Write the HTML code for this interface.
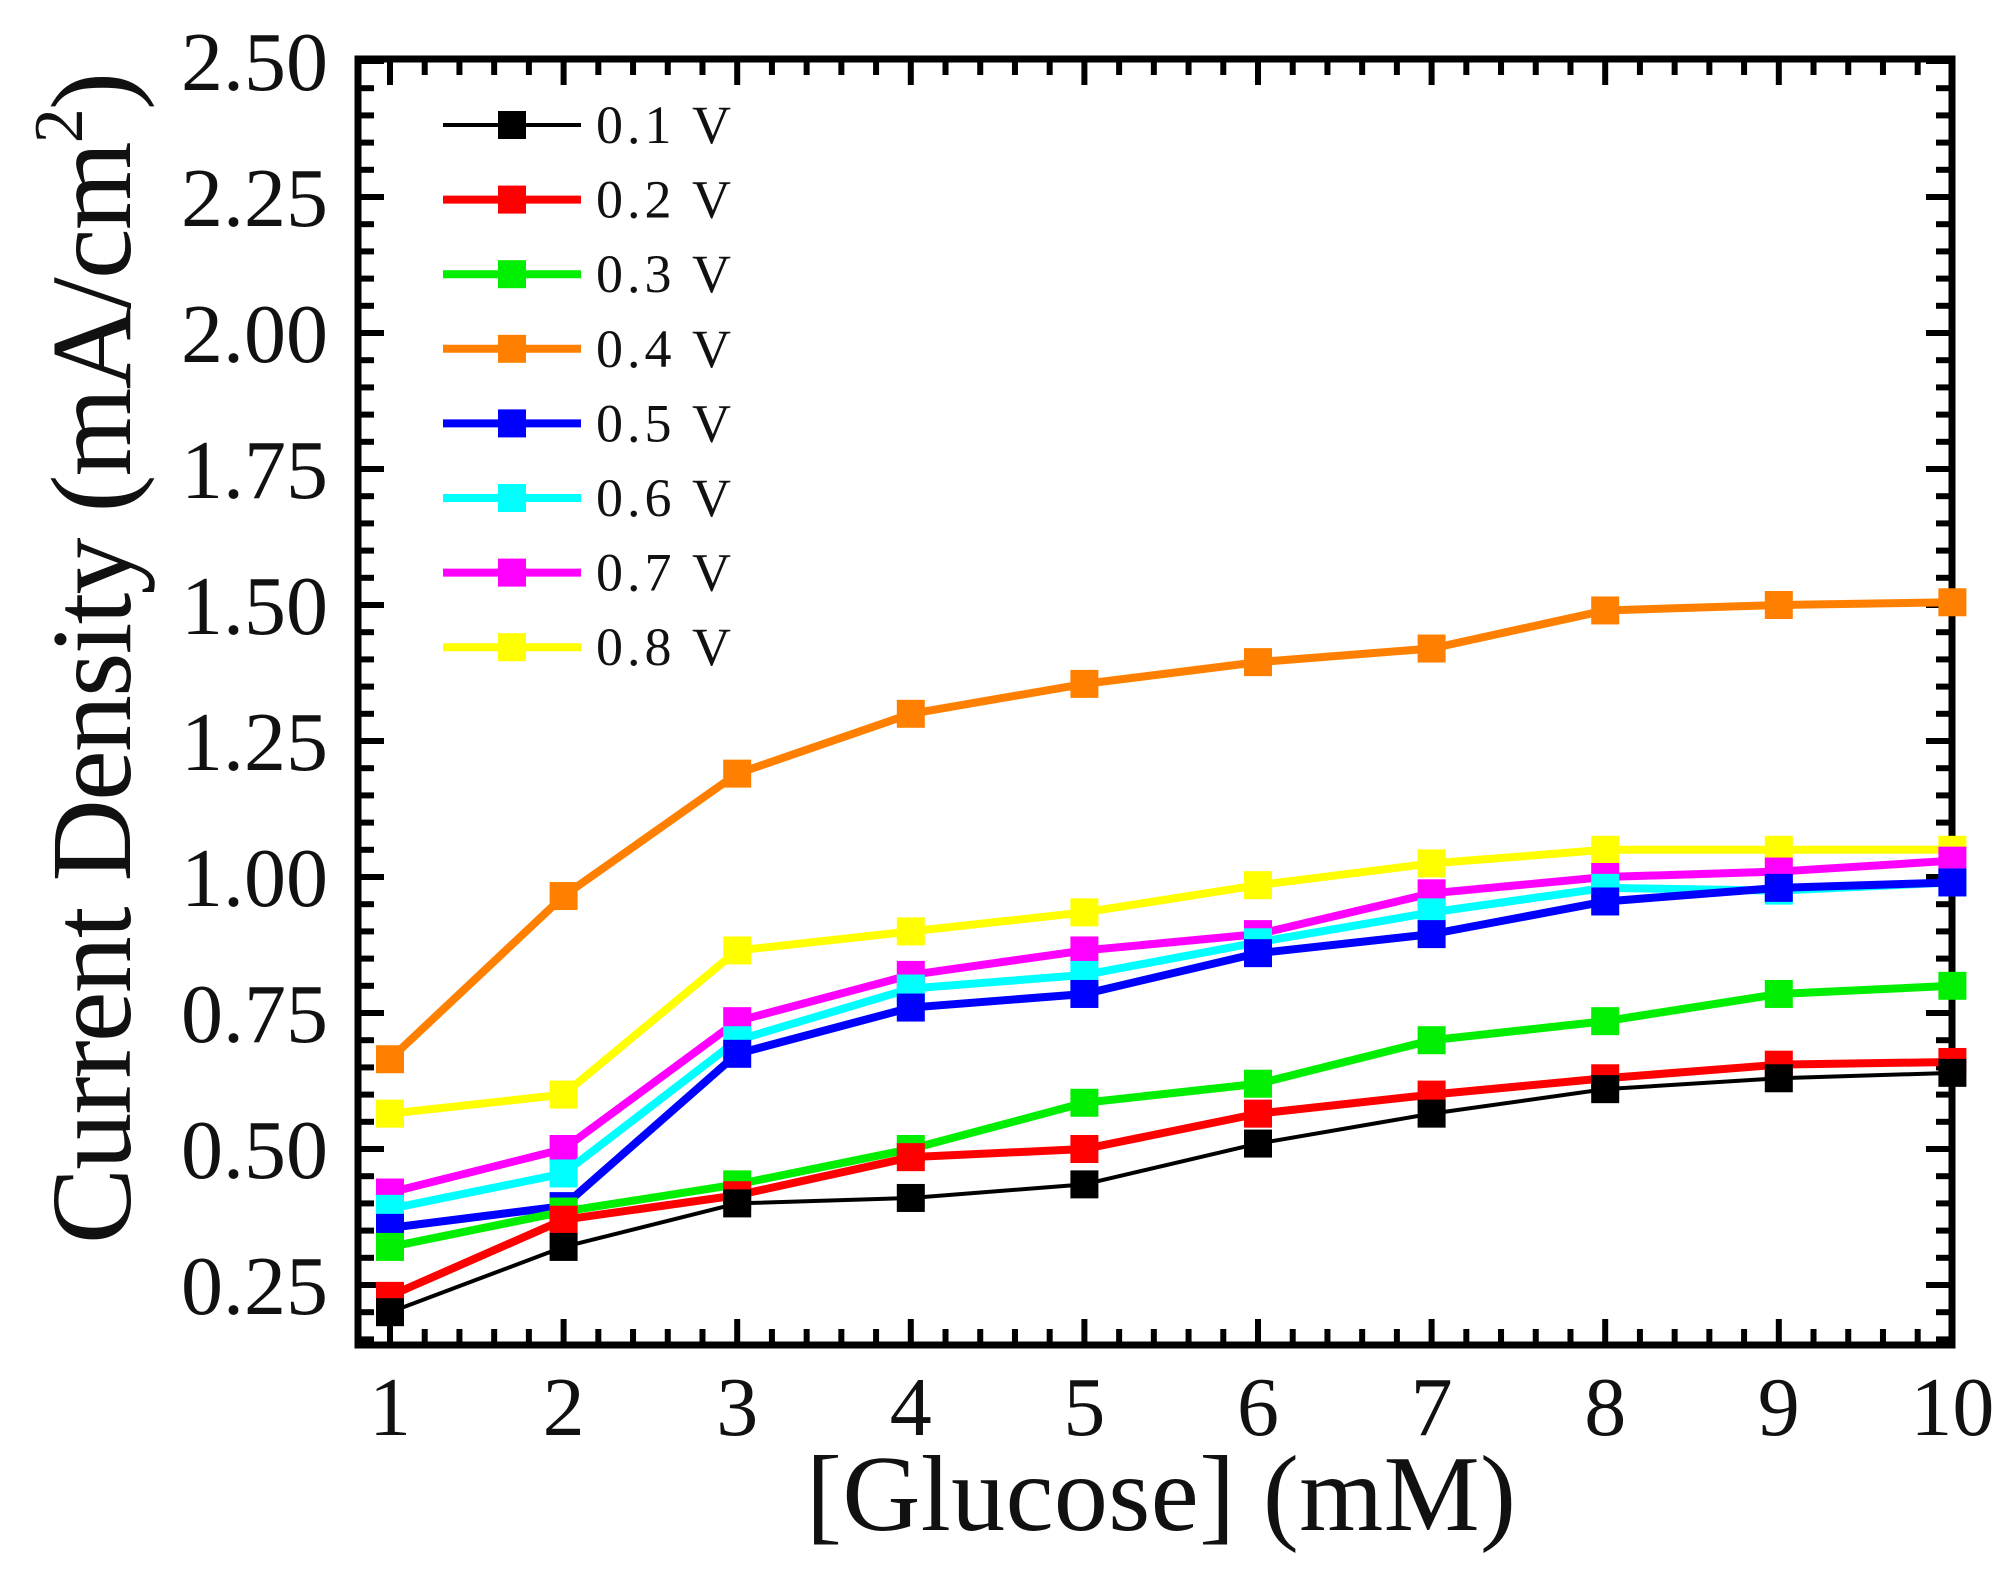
<!DOCTYPE html>
<html><head><meta charset="utf-8"><style>
html,body{margin:0;padding:0;background:#fff;}
svg{display:block;}
text{font-family:"Liberation Serif",serif;fill:#111;}
</style></head><body>
<svg width="2012" height="1583" viewBox="0 0 2012 1583" xmlns="http://www.w3.org/2000/svg">
<rect width="2012" height="1583" fill="#fff"/>
<g id="ticks" stroke="#000" stroke-width="6"></g>
<rect x="358" y="59" width="1594" height="1286" fill="none" stroke="#000" stroke-width="7"/>
<g id="series"></g>
<g id="legend"></g>
<g id="labels" font-size="84" text-anchor="end"></g>
<g id="xlabels" font-size="84" text-anchor="middle"></g>
<text x="1161" y="1530" font-size="108" text-anchor="middle" textLength="710">[Glucose] (mM)</text>
<text transform="translate(130,658) rotate(-90)" font-size="114" text-anchor="middle" textLength="1172">Current Density (mA/cm<tspan font-size="70" dy="-48">2</tspan><tspan dy="48">)</tspan></text>
<script>
var NS="http://www.w3.org/2000/svg";
function X(v){return 390+(v-1)*173.6;}
function Y(v){return 61+(2.5-v)*544;}
function el(p,n,a,t){var e=document.createElementNS(NS,n);for(var k in a)e.setAttribute(k,a[k]);if(t!==undefined)e.textContent=t;p.appendChild(e);return e;}
var T=document.getElementById('ticks');
for(var i=0;i<=45;i++){var v=1+i*0.2;var x=X(v);if(x>1953)break;var L=(i%5==0)?26:16;
el(T,'line',{x1:x,y1:1345,x2:x,y2:1345-L});el(T,'line',{x1:x,y1:59,x2:x,y2:59+L});}
for(var v=0.8;v<1;v+=0.2){var x=X(v);if(x>358){el(T,'line',{x1:x,y1:1345,x2:x,y2:1329});el(T,'line',{x1:x,y1:59,x2:x,y2:75});}}
for(var i=0;i<=50;i++){var v=2.5-i*0.05;var y=Y(v);if(y>1344)break;if(y<60)continue;var L=(i%5==0)?26:16;
el(T,'line',{x1:358,y1:y,x2:358+L,y2:y});el(T,'line',{x1:1952,y1:y,x2:1952-L,y2:y});}
var LB=document.getElementById('labels');
[2.5,2.25,2.0,1.75,1.5,1.25,1.0,0.75,0.5,0.25].forEach(function(v){el(LB,'text',{x:328,y:Y(v)+29},v.toFixed(2));});
var XL=document.getElementById('xlabels');
for(var k=1;k<=10;k++)el(XL,'text',{x:X(k),y:1435},String(k));
var data=[
['0.1 V','#000',4,[0.20,0.32,0.40,0.41,0.435,0.51,0.565,0.61,0.63,0.64]],
['0.2 V','#ff0000',8,[0.23,0.37,0.415,0.485,0.50,0.565,0.60,0.63,0.655,0.66]],
['0.3 V','#00ee00',8,[0.32,0.385,0.435,0.50,0.585,0.62,0.70,0.735,0.785,0.80]],
['0.4 V','#ff8000',8,[0.665,0.965,1.19,1.30,1.355,1.395,1.42,1.49,1.50,1.505]],
['0.5 V','#0000ff',8,[0.355,0.395,0.675,0.76,0.785,0.86,0.895,0.955,0.98,0.99]],
['0.6 V','#00ffff',8,[0.39,0.455,0.70,0.795,0.82,0.88,0.935,0.98,0.975,0.99]],
['0.7 V','#ff00ff',8,[0.42,0.50,0.735,0.82,0.865,0.895,0.97,1.00,1.01,1.03]],
['0.8 V','#ffff00',8,[0.565,0.60,0.865,0.90,0.935,0.985,1.025,1.05,1.05,1.05]]];
var S=document.getElementById('series'),LG=document.getElementById('legend');
var order=[3,7,6,5,4,2,1,0];
order.forEach(function(j){var d=data[j];var pts=d[3].map(function(v,i){return X(i+1)+','+Y(v);}).join(' ');
el(S,'polyline',{points:pts,fill:'none',stroke:d[1],'stroke-width':d[2],'stroke-linejoin':'round'});
d[3].forEach(function(v,i){el(S,'rect',{x:X(i+1)-14,y:Y(v)-14,width:28,height:28,fill:d[1]});});});
data.forEach(function(d,i){var y=125+i*74.6;
el(LG,'line',{x1:443,y1:y,x2:581,y2:y,stroke:d[1],'stroke-width':d[2]});
el(LG,'rect',{x:498,y:y-14,width:28,height:28,fill:d[1]});
el(LG,'text',{x:596,y:y+18,'font-size':54,textLength:135},d[0]);});
</script>
</svg>
</body></html>
